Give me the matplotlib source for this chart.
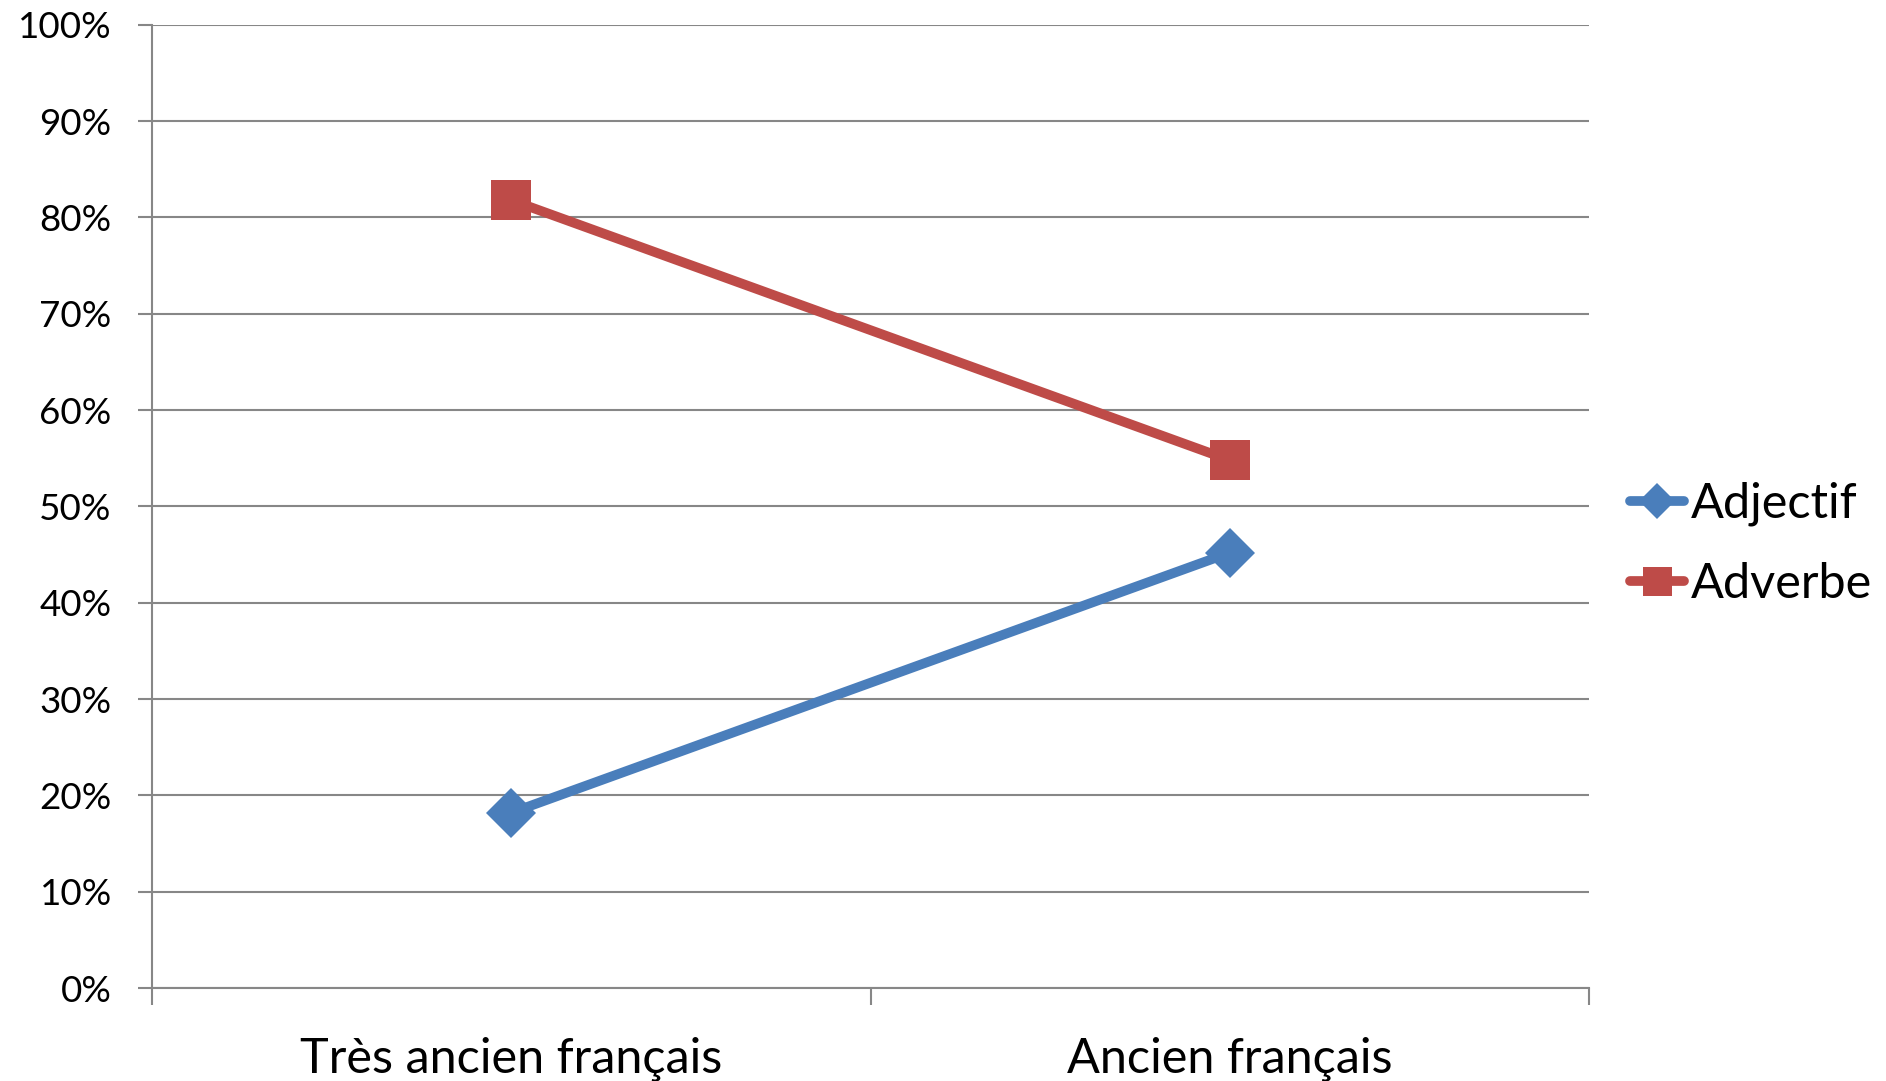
import matplotlib.pyplot as plt
import numpy as np
from matplotlib.ticker import FixedLocator, PercentFormatter

plt.rcParams['font.family'] = ['Lato', 'DejaVu Sans']

categories = ["Très ancien français", "Ancien français"]
adjectif = [18.2, 45.2]
adverbe = [81.8, 54.8]
y_ticks = list(range(0, 101, 10))

blue = '#4A7EBB'
red = '#BE4B48'
grid_col = '#878787'

fig = plt.figure(figsize=(18.86, 10.81), dpi=100)
ax = fig.add_axes([0.0806, 0.086, 0.762, 0.891])

x = np.arange(len(categories)) + 0.5

ax.plot(x, adjectif, color=blue, lw=7, marker='D', ms=25,
        markeredgewidth=0, label='Adjectif', solid_capstyle='round')
ax.plot(x, adverbe, color=red, lw=7, marker='s', ms=29,
        markeredgewidth=0, label='Adverbe', solid_capstyle='round')

ax.set_xlim(0, len(categories))
ax.set_ylim(0, 100)

ax.yaxis.set_major_locator(FixedLocator(y_ticks))
ax.yaxis.set_major_formatter(PercentFormatter(decimals=0))
ax.set_xticks([0, 1, 2])
ax.set_xticklabels([])
ax.set_xticks(x, minor=True)
ax.set_xticklabels(categories, minor=True)

ax.grid(axis='y', color=grid_col, lw=1.5)
ax.set_axisbelow(True)
for side in ['top', 'right']:
    ax.spines[side].set_visible(False)
for side in ['left', 'bottom']:
    ax.spines[side].set_color(grid_col)
    ax.spines[side].set_linewidth(1.5)

ax.tick_params(axis='y', length=10, width=1.5, color=grid_col, pad=19, labelsize=26.5)
ax.tick_params(axis='x', which='major', length=12, width=1.5, color=grid_col)
ax.tick_params(axis='x', which='minor', length=0, pad=35, labelsize=35)

ax.legend(loc='center left', bbox_to_anchor=(1.0, 0.461), frameon=False,
          fontsize=35, handlelength=1.1, handletextpad=0.15, labelspacing=0.75,
          borderaxespad=0.45, borderpad=0.4, markerscale=0.72)

fig.savefig('out.png', dpi=100)
